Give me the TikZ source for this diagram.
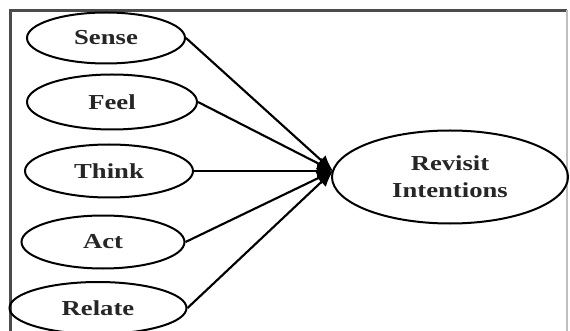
\documentclass[tikz,border=0pt]{standalone}
\usepackage{fontspec}
\setmainfont{Liberation Serif}[FakeStretch=1.25]
\usetikzlibrary{shapes.geometric,arrows.meta}
\begin{document}
\begin{tikzpicture}[x=0.75pt,y=-0.75pt,
  oval/.style={ellipse,draw=black,line width=1.5pt,inner sep=0pt,
    font=\fontsize{16}{20}\selectfont\bfseries,text=black!85},
  link/.style={line width=1.6pt,-{Latex[length=12pt,width=10pt]}},
  frameline/.style={line width=1.8pt,draw=black!70}]
\useasboundingbox (0,0) rectangle (570,331);
\clip (0,0) rectangle (570,331);
\fill[white] (0,0) rectangle (570,331);
\draw[frameline] (10.5,331) -- (10.5,10.5) -- (567,10.5);
\draw[line width=1pt,draw=black!25] (567,10.5) -- (567,331);
\node[oval,minimum width=158*0.75pt,minimum height=51*0.75pt] (sense) at (106,38) {Sense};
\node[oval,minimum width=170*0.75pt,minimum height=55*0.75pt] (feel) at (112,102) {Feel};
\node[oval,minimum width=168*0.75pt,minimum height=53*0.75pt] (think) at (109,171) {Think};
\node[oval,minimum width=163*0.75pt,minimum height=53*0.75pt] (act) at (103,242) {Act};
\node[oval,minimum width=177*0.75pt,minimum height=52*0.75pt] (relate) at (98,308) {Relate};
\node[oval,align=center,minimum width=236*0.75pt,minimum height=93*0.75pt] (rev) at (450,177) {Revisit\\Intentions};
\coordinate (j) at (333,171);
\foreach \n in {sense,feel,think,act,relate}{
  \draw[link] (\n.east) -- (j);
}
\end{tikzpicture}
\end{document}
